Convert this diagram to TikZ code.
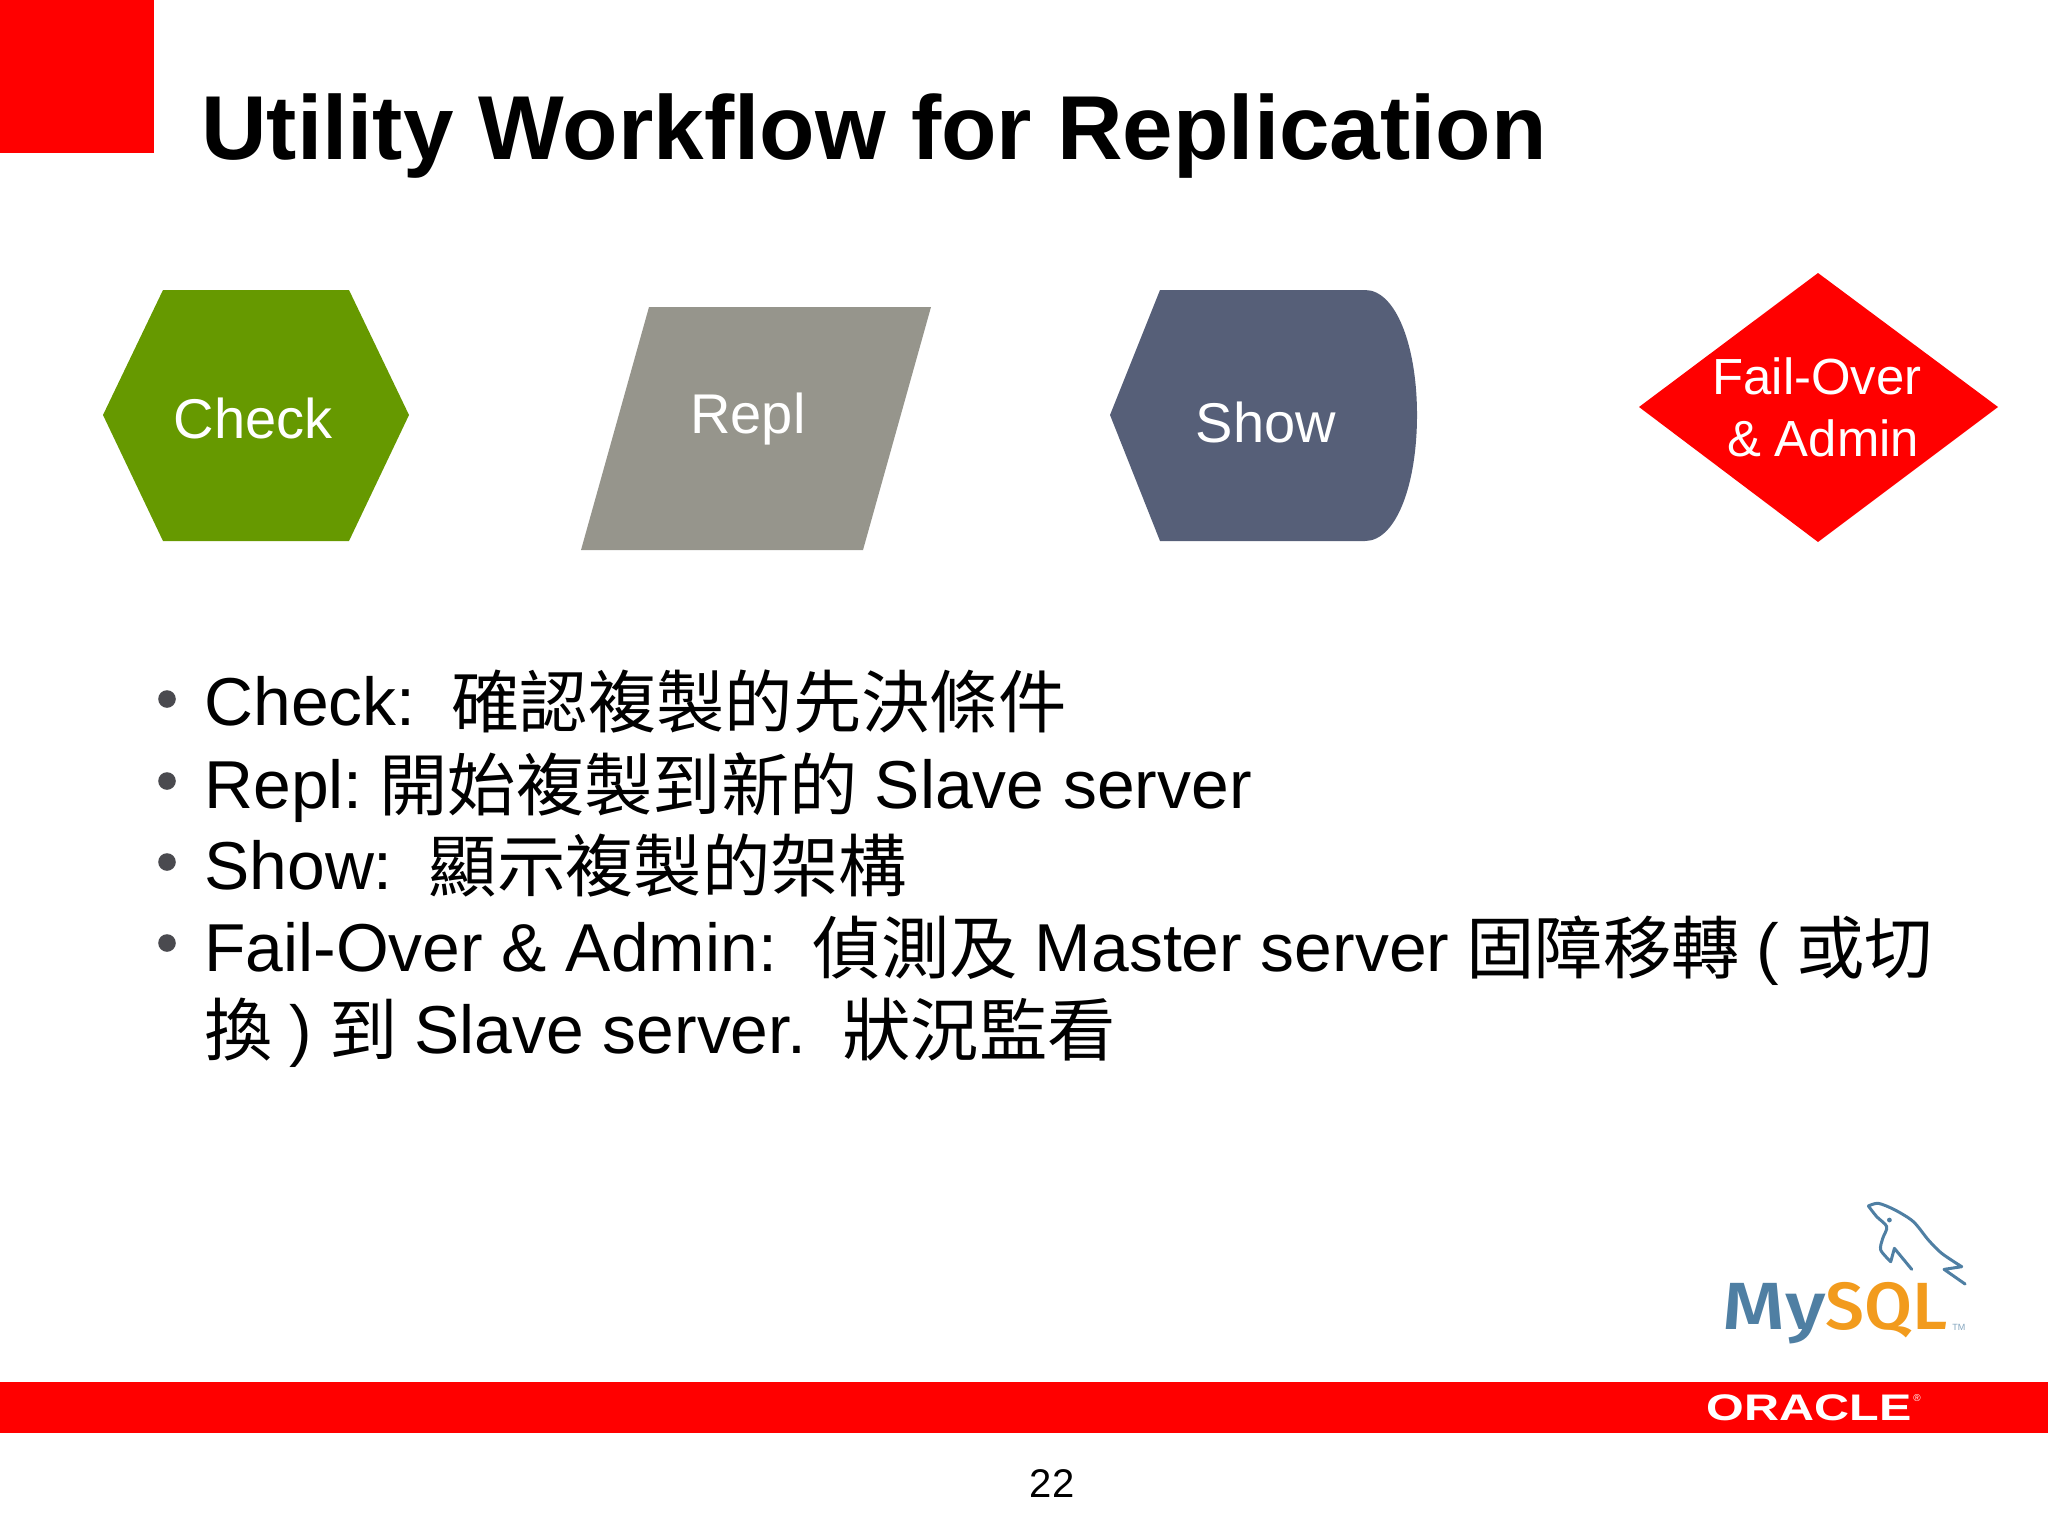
\documentclass[tikz,border=0pt]{standalone}
\usepackage{fontspec}
\usepackage{graphicx}
\setmainfont{Liberation Sans}
\newfontfamily\cjk[Scale=1.008]{Noto Sans CJK TC}
\newfontfamily\logofont{Fira Sans Medium}
\newcommand{\zh}[1]{\raisebox{-1pt}{\cjk #1}}
\newcommand{\gapone}{\hspace{0.25em}}
\newcommand{\gaptwo}{\hspace{0.53em}}
\definecolor{checkgreen}{HTML}{669900}
\definecolor{replgrey}{HTML}{96958C}
\definecolor{showslate}{HTML}{565F78}
\definecolor{bulletgrey}{HTML}{4A4A4F}
\definecolor{mysqlblue}{HTML}{4F7FA3}
\definecolor{mysqlorange}{HTML}{F29B1D}
\tikzset{
    shapelabel/.style={text=white, font=\fontsize{28}{32}\selectfont, inner sep=0pt},
    bodyline/.style={anchor=base west, inner sep=0pt, font=\fontsize{33.9}{40}\selectfont},
    logotext/.style={anchor=base west, inner sep=0pt, font=\logofont\fontsize{33.4}{36}\selectfont},
    dolphin/.style={draw=mysqlblue, line width=1.5pt, line join=round, line cap=round}
}
\begin{document}
\begin{tikzpicture}[x=0.5pt, y=-0.5pt]
    \useasboundingbox (0, 0) rectangle (2048, 1536);

    % corner and title
    \fill[red] (0, 0) rectangle (154, 153);
    \node[anchor=base west, inner sep=0pt, font=\fontsize{45.4}{50}\selectfont\bfseries] (title) at (201, 159) {Utility Workflow for Replication};

    % workflow shapes
    \fill[checkgreen] (103, 415) -- (163, 290) -- (349, 290) -- (409, 415) -- (349, 541) -- (163, 541) -- cycle;
    \fill[replgrey] (649, 307) -- (931, 307) -- (863, 550) -- (581, 550) -- cycle;
    \fill[showslate] (1110, 415) -- (1160, 290) -- (1365, 290)
        .. controls (1396, 290) and (1417, 346) .. (1417, 415)
        .. controls (1417, 485) and (1396, 541) .. (1365, 541)
        -- (1160, 541) -- cycle;
    \fill[red] (1639, 407) -- (1818, 273) -- (1998, 407) -- (1818, 542) -- cycle;

    \node[shapelabel] (check) at (253, 418) {Check};
    \node[shapelabel] (repl) at (748, 419) {Repl};
    \node[shapelabel] (show) at (1266, 422) {Show};
    \node[shapelabel, font=\fontsize{25.4}{30}\selectfont] (failover) at (1817, 376) {Fail-Over};
    \node[shapelabel, font=\fontsize{25.4}{30}\selectfont] (admin) at (1823, 438) {\& Admin};

    % bullets
    \foreach \y in {699, 781, 862, 943} {
        \fill[bulletgrey] (167, \y) circle (4.4pt);
    }
    \node[bodyline] (lineone) at (204, 725) {Check:\gaptwo\zh{確認複製的先決條件}};
    \node[bodyline] (linetwo) at (204, 808) {Repl:\gapone\zh{開始複製到新的}\gapone Slave server};
    \node[bodyline] (linethree) at (204, 889) {Show:\gaptwo\zh{顯示複製的架構}};
    \node[bodyline] (linefour) at (204, 971) {Fail-Over \& Admin:\gaptwo\zh{偵測及}\gapone Master server\gapone\zh{固障移轉}\gapone(\gapone\zh{或切}};
    \node[bodyline] (linefive) at (204, 1053) {\zh{換}\gapone)\gapone\zh{到}\gapone Slave server.\gaptwo\zh{狀況監看}};

    % logo
    \begin{scope}[shift={(1660, 1170)}, x=0.1667pt, y=-0.1667pt]
        \draw[dolphin] plot[smooth] coordinates {(625, 108) (655, 100) (705, 120) (760, 155) (805, 210) (845, 250) (905, 290)}
            -- (852, 298) -- (915, 342);
        \draw[dolphin] plot[smooth] coordinates {(625, 108) (650, 140) (680, 170) (668, 205) (662, 240) (692, 275)}
            -- (703, 235) -- (755, 298);
        \fill[mysqlblue] (688, 150) circle (1.2pt);
    \end{scope}
    \node[logotext, text=mysqlblue] (mysqlmy) at (1722, 1329) {\scalebox{1.2}[1]{My}};
    \node[logotext, text=mysqlorange] (mysqlsql) at (1825, 1329) {\scalebox{1.04}[1]{SQL}};
    \node[anchor=base west, inner sep=0pt, text=mysqlblue!70, font=\fontsize{4.5}{5}\selectfont] (trademark) at (1952, 1330) {TM};

    % footer
    \fill[red] (0, 1382) rectangle (2048, 1433);
    \node[anchor=center, inner sep=0pt, text=white] (oracle) at (1809, 1408) {\scalebox{1.31}[1]{\bfseries\fontsize{18.5}{20}\selectfont ORACLE}};
    \node[anchor=base west, inner sep=0pt, text=white, font=\fontsize{5}{6}\selectfont] (registered) at (1913, 1401) {®};
    \node[inner sep=0pt, font=\fontsize{20}{24}\selectfont] (pagenum) at (1052, 1484) {22};
\end{tikzpicture}
\end{document}
